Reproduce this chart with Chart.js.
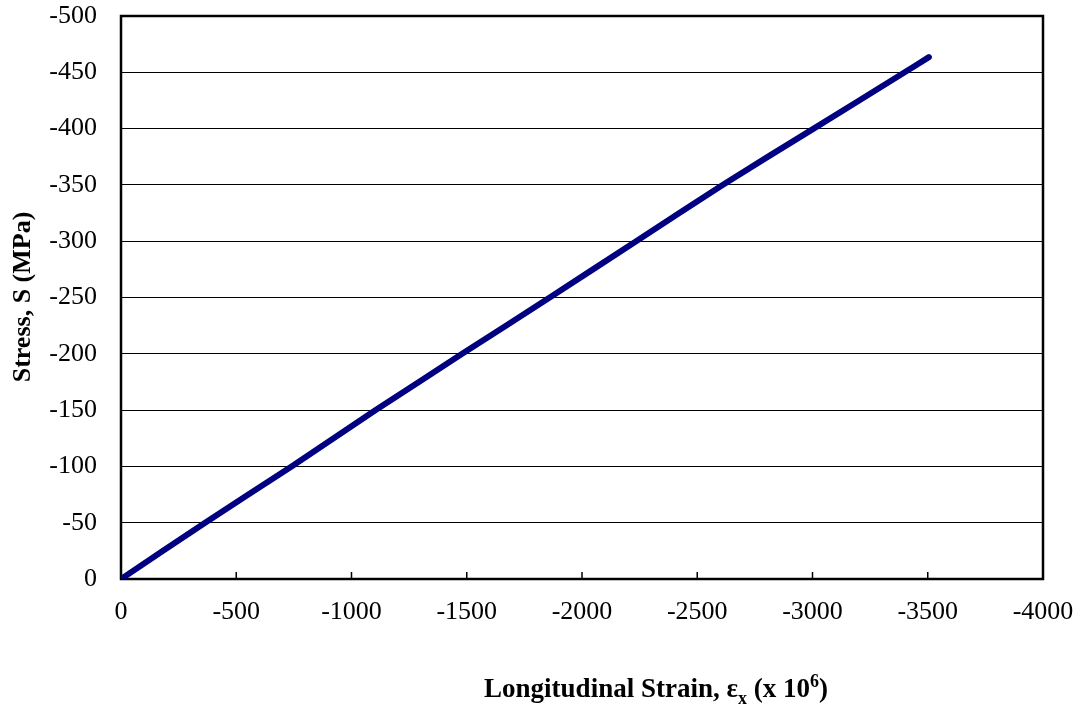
<!DOCTYPE html>
<html>
<head>
<meta charset="utf-8">
<script src="https://cdn.jsdelivr.net/npm/chart.js@4.4.0/dist/chart.umd.min.js"></script>
<style>
  html, body { margin: 0; padding: 0; background: #fff; }
  #wrap { width: 1079px; height: 721px; position: relative; }
</style>
</head>
<body>
<div id="wrap"><canvas id="stressStrain"></canvas></div>
<script>
// longitudinal strain (x 10^6) vs stress, compression test
const strain = [0, -365, -740, -1105, -1480, -1860, -2235, -2610, -3005, -3400, -3505];
const stress = [0, -50, -100, -150, -200, -250, -300, -350, -400, -450, -463.5];

const xTicks = [0, -500, -1000, -1500, -2000, -2500, -3000, -3500, -4000];
const yTicks = [0, -50, -100, -150, -200, -250, -300, -350, -400, -450, -500];

const serif = "'Liberation Serif', 'Times New Roman', serif";
Chart.defaults.font.family = serif;
Chart.defaults.font.size = 26;
Chart.defaults.color = '#000';

// frame, inward x ticks and the two axis titles
const framePlugin = {
  id: 'frame',
  beforeDatasetsDraw(chart) {
    const { ctx, chartArea: a, scales } = chart;
    ctx.save();
    ctx.strokeStyle = '#000';
    ctx.lineWidth = 1.5;
    xTicks.forEach(v => {
      const x = scales.x.getPixelForValue(v);
      ctx.beginPath();
      ctx.moveTo(x, a.bottom);
      ctx.lineTo(x, a.bottom - 7);
      ctx.stroke();
    });
    ctx.lineWidth = 2.5;
    ctx.strokeRect(a.left, a.top, a.right - a.left, a.bottom - a.top);
    ctx.restore();
  },
  afterDraw(chart) {
    const { ctx } = chart;
    ctx.save();
    ctx.fillStyle = '#000';

    // y title
    ctx.font = 'bold 26px ' + serif;
    ctx.translate(23, 297);
    ctx.rotate(-Math.PI / 2);
    ctx.textAlign = 'center';
    ctx.textBaseline = 'middle';
    ctx.fillText('Stress, S (MPa)', 0, 0);
    ctx.setTransform(1, 0, 0, 1, 0, 0);

    // x title with subscript and superscript
    const big = 'bold 27px ' + serif;
    const small = 'bold 18px ' + serif;
    const parts = [
      { t: 'Longitudinal Strain, \u03b5', f: big, dy: 0 },
      { t: 'x', f: small, dy: 7 },
      { t: ' (x 10', f: big, dy: 0 },
      { t: '6', f: small, dy: -10 },
      { t: ')', f: big, dy: 0 }
    ];
    let total = 0;
    parts.forEach(p => { ctx.font = p.f; p.w = ctx.measureText(p.t).width; total += p.w; });
    let x = 656 - total / 2;
    const base = 697;
    ctx.textAlign = 'left';
    ctx.textBaseline = 'alphabetic';
    parts.forEach(p => {
      ctx.font = p.f;
      ctx.fillText(p.t, x, base + p.dy);
      x += p.w;
    });
    ctx.restore();
  }
};

new Chart(document.getElementById('stressStrain'), {
  type: 'line',
  data: {
    datasets: [{
      data: strain.map((s, i) => ({ x: s, y: stress[i] })),
      borderColor: '#000080',
      borderWidth: 6,
      borderCapStyle: 'round',
      borderJoinStyle: 'round',
      pointRadius: 0,
      tension: 0.2,
      fill: false
    }]
  },
  options: {
    responsive: true,
    maintainAspectRatio: false,
    animation: false,
    layout: { padding: { top: 16, right: 36, left: 0, bottom: 0 } },
    plugins: { legend: { display: false }, tooltip: { enabled: false } },
    scales: {
      x: {
        type: 'linear',
        min: -4000,
        max: 0,
        reverse: true,
        afterBuildTicks: s => { s.ticks = xTicks.map(v => ({ value: v })); },
        afterFit: s => { s.height = 142; s.paddingLeft = 0; s.paddingRight = 0; },
        grid: { display: false, drawTicks: false },
        border: { display: false },
        ticks: { padding: 18, maxRotation: 0, callback: v => String(v) }
      },
      y: {
        type: 'linear',
        min: -500,
        max: 0,
        reverse: true,
        afterBuildTicks: s => { s.ticks = yTicks.map(v => ({ value: v })); },
        afterFit: s => { s.width = 121; s.paddingTop = 0; s.paddingBottom = 0; },
        grid: { color: '#000', lineWidth: 1, drawTicks: false },
        border: { display: false },
        ticks: { padding: 24, callback: v => String(v) }
      }
    }
  },
  plugins: [framePlugin]
});
</script>
</body>
</html>
